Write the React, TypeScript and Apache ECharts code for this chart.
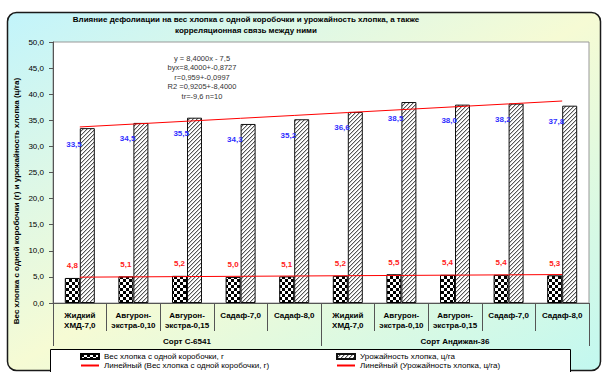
import React, { useEffect, useRef } from "react";
import * as echarts from "echarts";

const categories = [
  "Жидкий\nХМД-7,0", "Авгурон-\nэкстра-0,10", "Авгурон-\nэкстра-0,15", "Садаф-7,0", "Садаф-8,0",
  "Жидкий\nХМД-7,0", "Авгурон-\nэкстра-0,10", "Авгурон-\nэкстра-0,15", "Садаф-7,0", "Садаф-8,0",
];
const groups = ["Сорт С-6541", "Сорт Андижан-36"];
const bollWeight = [4.8, 5.1, 5.2, 5.0, 5.1, 5.2, 5.5, 5.4, 5.4, 5.3];
const cottonYield = [33.5, 34.5, 35.5, 34.3, 35.2, 36.6, 38.5, 38.0, 38.2, 37.8];
const yMin = 0;
const yMax = 50;
const yStep = 5;
const titleText = "Влияние дефолиации на вес хлопка с одной коробочки и урожайность хлопка, а также\nкорреляционная связь между ними";
const yAxisTitle = "Вес хлопка с одной коробочки (г) и урожайность хлопка (ц/га)";
const statsLines = ["y = 8,4000x - 7,5", "byx=8,4000+-0,8727", "r=0,959+-0,0997", "R2 =0,9205+-8,4000", "tr=-9,6 n=10"];
const seriesNames = ["Вес хлопка с одной коробочки, г", "Урожайность хлопка, ц/га"];
const trendNames = ["Линейный (Вес хлопка с одной коробочки, г)", "Линейный (Урожайность хлопка, ц/га)"];

function linearTrend(vals: number[]): number[] {
  const n = vals.length;
  const xs = vals.map((_, i) => i + 1);
  const mx = xs.reduce((a, b) => a + b, 0) / n;
  const my = vals.reduce((a, b) => a + b, 0) / n;
  let sxy = 0, sxx = 0;
  for (let i = 0; i < n; i++) { sxy += (xs[i] - mx) * (vals[i] - my); sxx += (xs[i] - mx) ** 2; }
  const b = sxy / sxx;
  const a = my - b * mx;
  return xs.map((x) => +(a + b * x).toFixed(4));
}

function makeChecker(): HTMLCanvasElement {
  const c = document.createElement("canvas");
  c.width = 6; c.height = 6;
  const g = c.getContext("2d")!;
  g.fillStyle = "#ffffff"; g.fillRect(0, 0, 6, 6);
  g.fillStyle = "#000000"; g.fillRect(0, 0, 3, 3); g.fillRect(3, 3, 3, 3);
  return c;
}
function makeHatch(): HTMLCanvasElement {
  const c = document.createElement("canvas");
  c.width = 8; c.height = 8;
  const g = c.getContext("2d")!;
  g.fillStyle = "#ffffff"; g.fillRect(0, 0, 8, 8);
  for (let i = 0; i < 8; i++) {
    const y = 7 - i;
    g.fillStyle = "#555555";
    g.fillRect(i, y, 1, 1);
    g.fillRect((i + 4) % 8, y, 1, 1);
    g.fillStyle = "#c8c8c8";
    g.fillRect((i + 1) % 8, y, 1, 1);
    g.fillRect((i + 5) % 8, y, 1, 1);
  }
  return c;
}

const FONT = "'Liberation Sans', Arial, sans-serif";

export default function App() {
  const ref = useRef<HTMLDivElement>(null);
  useEffect(() => {
    document.body.style.margin = "0";
    const chart = echarts.init(ref.current!, null, { renderer: "svg" });
    const checker = { image: makeChecker(), repeat: "repeat" };
    const hatch = { image: makeHatch(), repeat: "repeat" };
    const legendCommon = {
      orient: "vertical", top: 352, itemWidth: 18, itemHeight: 5, itemGap: 0, padding: 0,
      textStyle: { fontSize: 8, color: "#000", lineHeight: 9, fontFamily: FONT },
      z: 10,
    };
    const option: any = {
      animation: false,
      textStyle: { fontFamily: FONT },
      grid: { left: 53, right: 17, top: 42, bottom: 69, show: true, backgroundColor: "#ffffff", borderColor: "#999999", borderWidth: 1 },
      xAxis: [
        {
          type: "category", data: categories, position: "bottom",
          axisLine: { lineStyle: { color: "#555555" } },
          axisTick: { show: true, length: 28, interval: 0, lineStyle: { color: "#555555" } },
          axisLabel: { interval: 0, margin: 7, fontSize: 8, fontWeight: "bold", color: "#000", lineHeight: 10, verticalAlign: "top", fontFamily: FONT },
        },
        {
          type: "category", data: groups, position: "bottom",
          axisLine: { show: false },
          axisTick: { show: true, length: 43, interval: 0, lineStyle: { color: "#555555" } },
          axisLabel: { interval: 0, margin: 34, fontSize: 8, fontWeight: "bold", color: "#000", fontFamily: FONT },
        },
      ],
      yAxis: {
        type: "value", min: yMin, max: yMax, interval: yStep,
        axisLine: { show: true, lineStyle: { color: "#555555" } },
        axisTick: { show: true, length: 4, lineStyle: { color: "#555555" } },
        splitLine: { show: false },
        axisLabel: { fontSize: 8, color: "#000", margin: 9, fontFamily: FONT, formatter: (v: number) => v.toFixed(1).replace(".", ",") },
      },
      legend: [
        {
          ...legendCommon, left: 80,
          data: [{ name: seriesNames[0], icon: "rect" }, { name: trendNames[0], itemStyle: { opacity: 0 } }],
        },
        {
          ...legendCommon, left: 336,
          data: [{ name: seriesNames[1], icon: "rect" }, { name: trendNames[1], itemStyle: { opacity: 0 } }],
        },
      ],
      series: [
        {
          name: seriesNames[0], type: "bar", data: bollWeight, barWidth: 15, barGap: "0%",
          itemStyle: { color: checker, borderColor: "#000", borderWidth: 1 },
          label: {
            show: true, position: "top", distance: 8, fontSize: 8, fontWeight: "bold", color: "#ff2020", fontFamily: FONT,
            formatter: (p: any) => Number(p.value).toFixed(1).replace(".", ","),
          },
        },
        {
          name: seriesNames[1], type: "bar", data: cottonYield, barWidth: 15,
          itemStyle: { color: hatch, borderColor: "#111", borderWidth: 1 },
          label: {
            show: true, position: [2, 16], align: "right", verticalAlign: "middle", fontSize: 8, fontWeight: "bold", color: "#3030ff", fontFamily: FONT,
            formatter: (p: any) => Number(p.value).toFixed(1).replace(".", ","),
          },
        },
        {
          name: trendNames[0], type: "line", data: linearTrend(bollWeight), symbol: "none", z: 5,
          lineStyle: { color: "#ff0000", width: 1 }, itemStyle: { color: "#ff0000" },
        },
        {
          name: trendNames[1], type: "line", data: linearTrend(cottonYield), symbol: "none", z: 5,
          lineStyle: { color: "#ff0000", width: 1 }, itemStyle: { color: "#ff0000" },
        },
      ],
      graphic: [
        {
          type: "rect", z: -100, shape: { x: 7.5, y: 12.5, width: 593, height: 358, r: 9 },
          style: {
            fill: new echarts.graphic.LinearGradient(0, 0, 1, 1, [
              { offset: 0, color: "#c2f4fb" },
              { offset: 0.5, color: "#f6fbd4" },
              { offset: 1, color: "#c2f8f0" },
            ]),
            stroke: "#1a1a1a", lineWidth: 1.5,
          },
        },
        {
          type: "rect", z: 1, shape: { x: 50.5, y: 349.5, width: 520, height: 30 },
          style: { fill: "#ffffff", stroke: "#000000", lineWidth: 1 },
        },
        {
          type: "text", x: 246, y: 13.5, z: 10,
          style: { text: titleText, font: `bold 8px ${FONT}`, fill: "#000", textAlign: "center", textVerticalAlign: "top", lineHeight: 11 },
        },
        {
          type: "text", x: 16, y: 201, rotation: Math.PI / 2, z: 10,
          style: { text: yAxisTitle, font: `bold 8px ${FONT}`, fill: "#000", textAlign: "center", textVerticalAlign: "middle" },
        },
        {
          type: "text", x: 202, y: 53.5, z: 10,
          style: { text: statsLines.join("\n"), font: `7.5px ${FONT}`, fill: "#333", textAlign: "center", textVerticalAlign: "top", lineHeight: 9.5 },
        },
      ],
    };
    chart.setOption(option);
    return () => chart.dispose();
  }, []);
  return <div ref={ref} style={{ width: 606, height: 372 }} />;
}
